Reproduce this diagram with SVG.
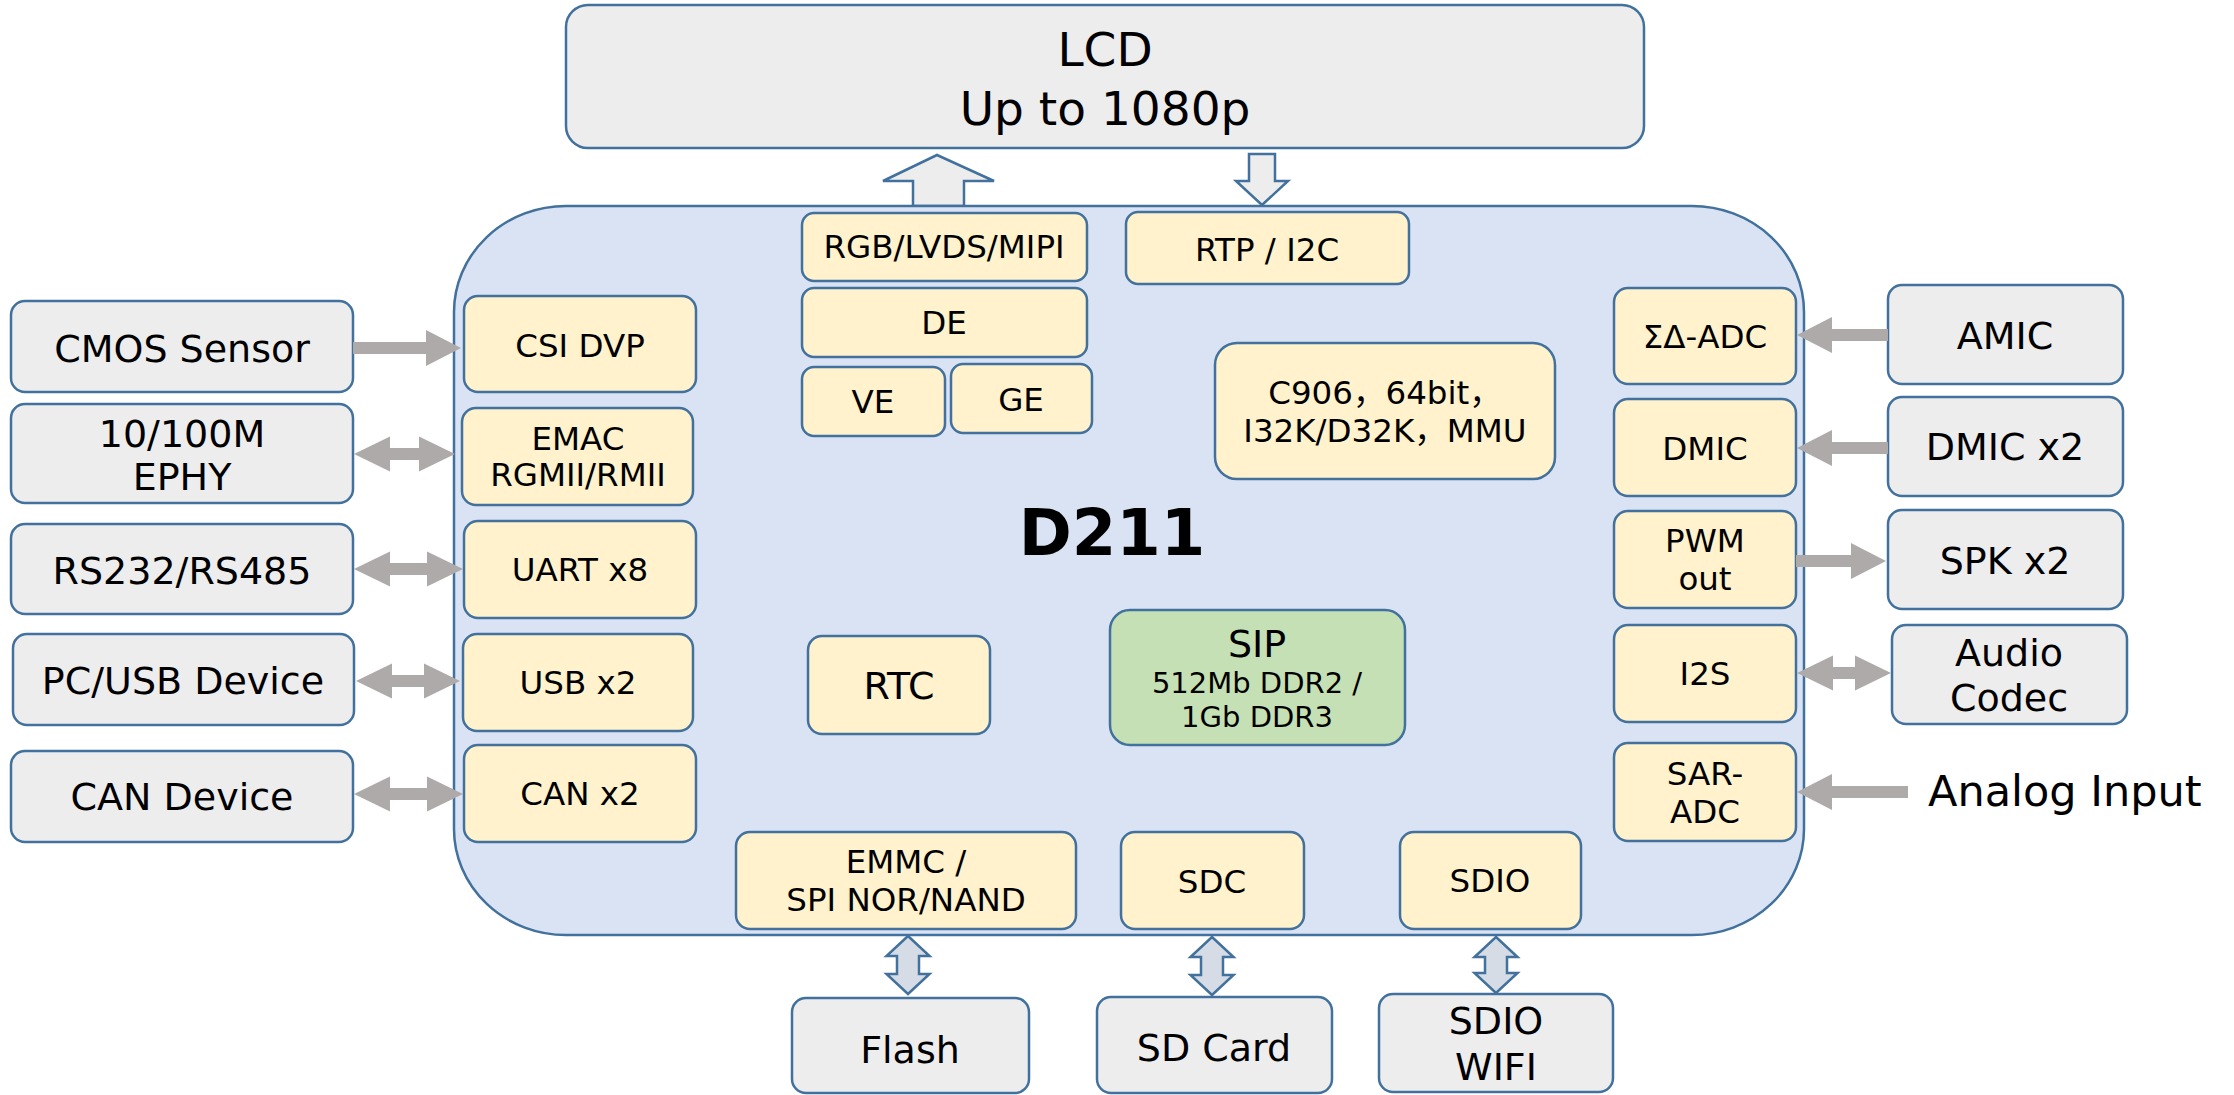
<svg xmlns="http://www.w3.org/2000/svg" width="2234" height="1095" viewBox="0 0 2234 1095">
<style>
text{font-family:"DejaVu Sans","Noto Sans CJK SC",sans-serif;fill:#000;text-anchor:middle}
.g{fill:#ededed;stroke:#41719c;stroke-width:2.5}
.y{fill:#fff2cc;stroke:#41719c;stroke-width:2.5}
.gr{fill:#c5e0b4;stroke:#41719c;stroke-width:2.5}
.main{fill:#dae3f3;stroke:#41719c;stroke-width:2.5}
.ga{fill:#aeaaaa;stroke:none}
.ba{fill:#ededed;stroke:#41719c;stroke-width:2.5;stroke-linejoin:miter}
.va{fill:#d6dce5;stroke:#41719c;stroke-width:2.5;stroke-linejoin:miter}
.t37{font-size:38px}
.t31{font-size:32.5px}
.t29{font-size:29px}
</style>
<g id="connectors">
<polygon class="ba" points="937,155 994,181 964,181 964,206 913,206 913,181 883,181"/>
<polygon class="ba" points="1249,154 1275,154 1275,181 1288,181 1262,205 1236,181 1249,181"/>
</g>
<g id="D211">
<rect class="main" x="454" y="206" width="1350" height="729" rx="112" ry="106"/>
<text x="1112" y="555" style="font-size:64px;font-weight:bold">D211</text>
</g>
<g id="LCD">
<rect class="g" x="566" y="5" width="1078" height="143" rx="22"/>
<text x="1105" y="66" style="font-size:47px">LCD</text>
<text x="1105" y="125" style="font-size:47px">Up to 1080p</text>
</g>
<g id="rgb"><rect class="y" x="802" y="213" width="285" height="68" rx="12"/><text class="t31" x="944" y="258">RGB/LVDS/MIPI</text></g>
<g id="de"><rect class="y" x="802" y="288" width="285" height="69" rx="12"/><text class="t31" x="944" y="334">DE</text></g>
<g id="ve"><rect class="y" x="802" y="367" width="143" height="69" rx="12"/><text class="t31" x="873" y="413">VE</text></g>
<g id="ge"><rect class="y" x="951" y="364" width="141" height="69" rx="12"/><text class="t31" x="1021" y="411">GE</text></g>
<g id="rtp"><rect class="y" x="1126" y="212" width="283" height="72" rx="12"/><text class="t31" x="1267" y="261">RTP / I2C</text></g>
<g id="cpu"><rect class="y" x="1215" y="343" width="340" height="136" rx="22"/>
<text class="t31" x="1385" y="404">C906，64bit，</text>
<text class="t31" x="1385" y="442">I32K/D32K，MMU</text></g>
<g id="csi"><rect class="y" x="464" y="296" width="232" height="96" rx="14"/><text class="t31" x="580" y="357">CSI DVP</text></g>
<g id="emac"><rect class="y" x="462" y="408" width="231" height="97" rx="14"/><text class="t31" x="578" y="450">EMAC</text><text class="t31" x="578" y="486">RGMII/RMII</text></g>
<g id="uart"><rect class="y" x="464" y="521" width="232" height="97" rx="14"/><text class="t31" x="580" y="581">UART x8</text></g>
<g id="usb"><rect class="y" x="463" y="634" width="230" height="97" rx="14"/><text class="t31" x="578" y="694">USB x2</text></g>
<g id="can"><rect class="y" x="464" y="745" width="232" height="97" rx="14"/><text class="t31" x="580" y="805">CAN x2</text></g>
<g id="rtc"><rect class="y" x="808" y="636" width="182" height="98" rx="14"/><text class="t37" x="899" y="699">RTC</text></g>
<g id="sip"><rect class="gr" x="1110" y="610" width="295" height="135" rx="20"/>
<text class="t37" x="1257" y="657">SIP</text>
<text class="t29" x="1257" y="693">512Mb DDR2 /</text>
<text class="t29" x="1257" y="727">1Gb DDR3</text></g>
<g id="emmc"><rect class="y" x="736" y="832" width="340" height="97" rx="14"/><text class="t31" x="906" y="873">EMMC /</text><text class="t31" x="906" y="911">SPI NOR/NAND</text></g>
<g id="sdc"><rect class="y" x="1121" y="832" width="183" height="97" rx="14"/><text class="t31" x="1212" y="893">SDC</text></g>
<g id="sdio"><rect class="y" x="1400" y="832" width="181" height="97" rx="14"/><text class="t31" x="1490" y="892">SDIO</text></g>
<g id="sdadc"><rect class="y" x="1614" y="288" width="182" height="96" rx="14"/><text class="t31" x="1705" y="348">ΣΔ-ADC</text></g>
<g id="dmic"><rect class="y" x="1614" y="399" width="182" height="97" rx="14"/><text class="t31" x="1705" y="460">DMIC</text></g>
<g id="pwm"><rect class="y" x="1614" y="511" width="182" height="97" rx="14"/><text class="t31" x="1705" y="552">PWM</text><text class="t31" x="1705" y="590">out</text></g>
<g id="i2s"><rect class="y" x="1614" y="625" width="182" height="97" rx="14"/><text class="t31" x="1705" y="685">I2S</text></g>
<g id="saradc"><rect class="y" x="1614" y="743" width="182" height="98" rx="14"/><text class="t31" x="1705" y="785">SAR-</text><text class="t31" x="1705" y="823">ADC</text></g>
<g id="cmos"><rect class="g" x="11" y="301" width="342" height="91" rx="14"/><text class="t37" x="182" y="362">CMOS Sensor</text></g>
<g id="ephy"><rect class="g" x="11" y="404" width="342" height="99" rx="14"/><text class="t37" x="182" y="447">10/100M</text><text class="t37" x="182" y="490">EPHY</text></g>
<g id="rs"><rect class="g" x="11" y="524" width="342" height="90" rx="14"/><text class="t37" x="182" y="584">RS232/RS485</text></g>
<g id="pcusb"><rect class="g" x="13" y="634" width="341" height="91" rx="14"/><text class="t37" x="183" y="694">PC/USB Device</text></g>
<g id="candev"><rect class="g" x="11" y="751" width="342" height="91" rx="14"/><text class="t37" x="182" y="810">CAN Device</text></g>
<g id="amic"><rect class="g" x="1888" y="285" width="235" height="99" rx="14"/><text class="t37" x="2005" y="349">AMIC</text></g>
<g id="dmic2"><rect class="g" x="1888" y="397" width="235" height="99" rx="14"/><text class="t37" x="2005" y="460">DMIC x2</text></g>
<g id="spk"><rect class="g" x="1888" y="510" width="235" height="99" rx="14"/><text class="t37" x="2005" y="574">SPK x2</text></g>
<g id="codec"><rect class="g" x="1892" y="625" width="235" height="99" rx="14"/><text class="t37" x="2009" y="666">Audio</text><text class="t37" x="2009" y="711">Codec</text></g>
<g id="analog"><text x="1928" y="806" style="font-size:43px;text-anchor:start">Analog Input</text></g>
<g id="flash"><rect class="g" x="792" y="998" width="237" height="95" rx="14"/><text class="t37" x="910" y="1063">Flash</text></g>
<g id="sdcard"><rect class="g" x="1097" y="997" width="235" height="96" rx="14"/><text class="t37" x="1214" y="1061">SD Card</text></g>
<g id="wifi"><rect class="g" x="1379" y="994" width="234" height="98" rx="14"/><text class="t37" x="1496" y="1034">SDIO</text><text class="t37" x="1496" y="1080">WIFI</text></g>
<g id="arrows">
<polygon class="ga" points="353,342 426,342 426,330 461,348 426,366 426,354 353,354"/>
<polygon class="ga" points="354,454 390,436.5 390,448 419,448 419,436.5 455,454 419,471.5 419,460 390,460 390,471.5"/>
<polygon class="ga" points="354,569 390,551.5 390,563 427,563 427,551.5 463,569 427,586.5 427,575 390,575 390,586.5"/>
<polygon class="ga" points="356,681 392,663.5 392,675 424,675 424,663.5 460,681 424,698.5 424,687 392,687 392,698.5"/>
<polygon class="ga" points="354,794 390,776.5 390,788 427,788 427,776.5 463,794 427,811.5 427,800 390,800 390,811.5"/>
<polygon class="ga" points="1888,329 1832,329 1832,317 1797,335 1832,353 1832,341 1888,341"/>
<polygon class="ga" points="1888,442 1832,442 1832,430 1797,448 1832,466 1832,454 1888,454"/>
<polygon class="ga" points="1796,555 1851,555 1851,543 1886,561 1851,579 1851,567 1796,567"/>
<polygon class="ga" points="1797,673 1833,655.5 1833,667 1855,667 1855,655.5 1891,673 1855,690.5 1855,679 1833,679 1833,690.5"/>
<polygon class="ga" points="1908,786 1832,786 1832,774 1797,792 1832,810 1832,798 1908,798"/>
<polygon class="va" points="908,936 929.5,956 919,956 919,974 929.5,974 908,994 886.5,974 897,974 897,956 886.5,956"/>
<polygon class="va" points="1212,937 1233.5,957 1223,957 1223,975 1233.5,975 1212,995 1190.5,975 1201,975 1201,957 1190.5,957"/>
<polygon class="va" points="1496,937 1517.5,957 1507,957 1507,973 1517.5,973 1496,993 1474.5,973 1485,973 1485,957 1474.5,957"/>
</g>
</svg>
